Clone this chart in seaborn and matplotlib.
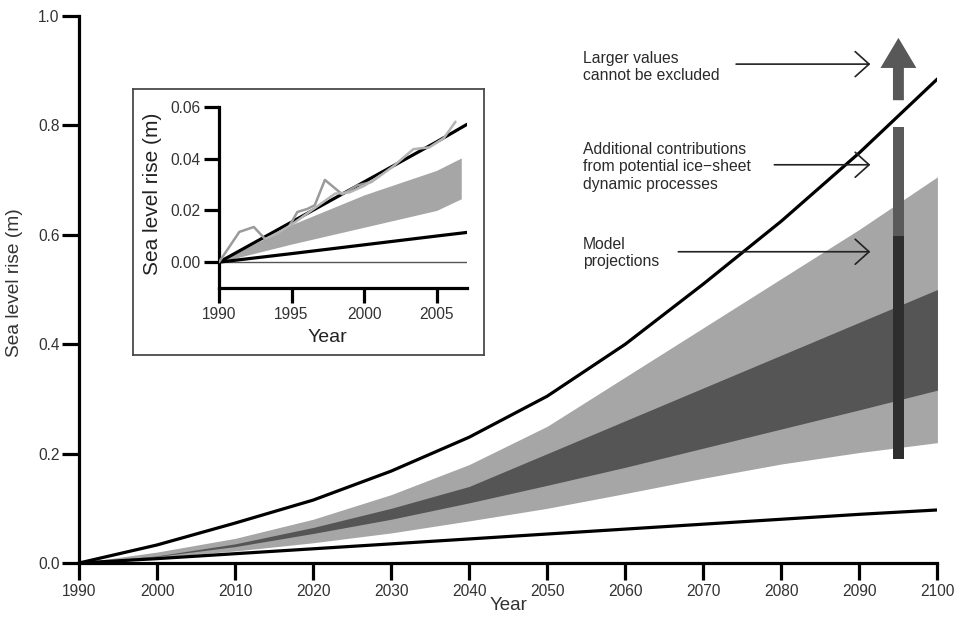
import numpy as np
import pandas as pd
import matplotlib
matplotlib.use("Agg")
import matplotlib.pyplot as plt
import seaborn as sns
from matplotlib import font_manager

# ---------------- data (main chart) ----------------
years = [1990, 2000, 2010, 2020, 2030, 2040, 2050, 2060, 2070, 2080, 2090, 2100]
upper_line = [0.0, 0.033, 0.073, 0.115, 0.168, 0.23, 0.305, 0.40, 0.51, 0.625, 0.75, 0.885]
lower_line = [0.0, 0.008, 0.017, 0.026, 0.035, 0.044, 0.053, 0.062, 0.071, 0.080, 0.089, 0.097]
light_hi = [0.0, 0.02, 0.045, 0.08, 0.125, 0.18, 0.25, 0.34, 0.43, 0.52, 0.61, 0.706]
light_lo = [0.0, 0.01, 0.022, 0.037, 0.055, 0.077, 0.10, 0.127, 0.155, 0.181, 0.202, 0.22]
dark_hi = [0.0, 0.013, 0.035, 0.065, 0.10, 0.14, 0.20, 0.26, 0.32, 0.38, 0.44, 0.50]
dark_lo = [0.0, 0.012, 0.03, 0.054, 0.08, 0.11, 0.142, 0.175, 0.21, 0.245, 0.28, 0.316]

bar_year = 2095
bar_bottoms = [0.19, 0.598]
bar_tops = [0.598, 0.797]
bar_colors = ["#2e2e2e", "#5a5a5a"]
big_arrow = [0.846, 0.96]   # shaft base, tip

notes = ["Larger values\ncannot be excluded",
         "Additional contributions\nfrom potential ice\u2212sheet\ndynamic processes",
         "Model\nprojections"]
note_text_y = [0.907, 0.724, 0.567]
note_arrow_y = [0.912, 0.728, 0.569]
note_arrow_from = [2074.2, 2079.1, 2066.8]
note_text_x = 2054.6
note_arrow_to = 2091.4

# ---------------- data (inset) ----------------
in_years = [1990, 1995, 2000, 2005, 2007.1]
in_upper = [0.0, 0.0155, 0.031, 0.0465, 0.0533]
in_lower = [0.0, 0.0033, 0.0067, 0.0101, 0.0115]
in_band_years = [1990, 1995, 2000, 2005, 2006.7]
in_band_hi = [0.0, 0.0145, 0.026, 0.0355, 0.0403]
in_band_lo = [0.0, 0.007, 0.0135, 0.020, 0.0245]
obs_a_years = [1990, 1991.4, 1992.4, 1993.2, 1994.0, 1994.8, 1995.4, 1996.1, 1996.6, 1997.3, 1998.5, 1999.5, 2000.5, 2001.1]
obs_a = [0.0, 0.0117, 0.0136, 0.0088, 0.0112, 0.0135, 0.0194, 0.0206, 0.022, 0.0318, 0.0262, 0.0296, 0.031, 0.0335]
obs_b_years = [1993.2, 1994, 1995, 1996, 1997, 1998, 1999, 2000, 2001, 2002, 2003.4, 2004.5, 2005.5, 2006.3]
obs_b = [0.009, 0.011, 0.0145, 0.0185, 0.0225, 0.0265, 0.027, 0.0295, 0.033, 0.037, 0.0437, 0.0444, 0.048, 0.0543]

# ---------------- style ----------------
sns.set_style("ticks")
avail = {f.name for f in font_manager.fontManager.ttflist}
narrow = "Liberation Sans Narrow" if "Liberation Sans Narrow" in avail else "Liberation Sans"
tick_size = 12 if narrow == "Liberation Sans Narrow" else 11.2
plt.rcParams["font.family"] = ["Liberation Sans", "DejaVu Sans"]

LIGHT = "#a6a6a6"
DARK = "#555555"
TXT = "#333333"

fig = plt.figure(figsize=(9.64, 6.17), dpi=100)
ax = fig.add_axes([0.08195, 0.0875, 0.8905, 0.8866])

ax.fill_between(years, light_lo, light_hi, color=LIGHT, lw=0, zorder=1)
ax.fill_between(years, dark_lo, dark_hi, color=DARK, lw=0, zorder=2)

df = pd.DataFrame({"year": years, "upper": upper_line, "lower": lower_line})
sns.lineplot(data=df, x="year", y="upper", color="black", lw=2.3, ax=ax, zorder=5)
sns.lineplot(data=df, x="year", y="lower", color="black", lw=2.3, ax=ax, zorder=5)

for b, t, c in zip(bar_bottoms, bar_tops, bar_colors):
    ax.bar(bar_year, t - b, bottom=b, width=1.4, color=c, lw=0, zorder=4)
ax.arrow(bar_year, big_arrow[0], 0, big_arrow[1] - big_arrow[0], width=1.4,
         head_width=4.6, head_length=0.055, length_includes_head=True,
         color="#585858", lw=0, zorder=4)

for txt, ty, ay, ax0 in zip(notes, note_text_y, note_arrow_y, note_arrow_from):
    ax.text(note_text_x, ty, txt, ha="left", va="center", fontsize=11.3,
            color="#2a2a2a", linespacing=1.18, zorder=6)
    ax.annotate("", xy=(note_arrow_to, ay), xytext=(ax0, ay),
                arrowprops=dict(arrowstyle="->,head_length=1.0,head_width=0.9",
                                mutation_scale=10, lw=1.2, color="#222222",
                                shrinkA=0, shrinkB=0), zorder=6)

ax.set_xlim(1990, 2100)
ax.set_ylim(0, 1.0)
ax.set_xticks(list(range(1990, 2101, 10)))
ax.set_yticks([0.0, 0.2, 0.4, 0.6, 0.8, 1.0])
ax.set_yticklabels([f"{v:.1f}" for v in [0.0, 0.2, 0.4, 0.6, 0.8, 1.0]])
sns.despine(ax=ax)
for s in ["left", "bottom"]:
    ax.spines[s].set_linewidth(2.3)
    ax.spines[s].set_color("black")
ax.tick_params(axis="both", length=12, width=2.3, color="black", labelcolor=TXT)
ax.tick_params(axis="x", pad=3)
ax.tick_params(axis="y", pad=2)
for lab in ax.get_xticklabels() + ax.get_yticklabels():
    lab.set_fontfamily([narrow, "DejaVu Sans"])
    lab.set_fontsize(tick_size)
ax.set_xlabel("Year", fontsize=13.5, color=TXT)
ax.set_ylabel("Sea level rise (m)", fontsize=13.8, color=TXT)
ax.xaxis.set_label_coords(0.5, -0.077)
ax.yaxis.set_label_coords(-0.0746, 0.512)
ax.xaxis.label.set_va("center")
ax.yaxis.label.set_va("center")

# ---------------- inset ----------------
box = fig.add_axes([0.138, 0.4246, 0.364, 0.431], zorder=5)
box.set_facecolor("white")
box.set_xticks([])
box.set_yticks([])
for s in box.spines.values():
    s.set_visible(True)
    s.set_color("#4a4a4a")
    s.set_linewidth(1.3)

axi = fig.add_axes([0.2272, 0.5332, 0.2573, 0.2934], zorder=6)
axi.set_facecolor("none")
axi.fill_between(in_band_years, in_band_lo, in_band_hi, color=LIGHT, lw=0, zorder=1)
axi.plot([1990, 2007.1], [0, 0], color="#555555", lw=1.0, zorder=2)
dfi = pd.DataFrame({"year": in_years, "upper": in_upper, "lower": in_lower})
dfa = pd.DataFrame({"year": obs_a_years, "sl": obs_a})
dfb = pd.DataFrame({"year": obs_b_years, "sl": obs_b})
sns.lineplot(data=dfi, x="year", y="upper", color="black", lw=2.3, ax=axi, zorder=3)
sns.lineplot(data=dfi, x="year", y="lower", color="black", lw=2.3, ax=axi, zorder=3)
sns.lineplot(data=dfa, x="year", y="sl", color="#9a9a9a", lw=1.8, ax=axi, zorder=4)
sns.lineplot(data=dfb, x="year", y="sl", color="#b4b4b4", lw=1.8, ax=axi, zorder=4)
axi.set_xlim(1990, 2007.1)
axi.set_ylim(-0.01, 0.06)
axi.set_xticks([1990, 1995, 2000, 2005])
axi.set_yticks([0.0, 0.02, 0.04, 0.06])
axi.set_yticklabels([f"{v:.2f}" for v in [0.0, 0.02, 0.04, 0.06]])
sns.despine(ax=axi)
for s in ["left", "bottom"]:
    axi.spines[s].set_linewidth(2.3)
    axi.spines[s].set_color("black")
axi.tick_params(axis="both", length=11, width=2.3, color="black", labelcolor=TXT)
axi.tick_params(axis="x", pad=3)
axi.tick_params(axis="y", pad=2)
for lab in axi.get_xticklabels() + axi.get_yticklabels():
    lab.set_fontfamily([narrow, "DejaVu Sans"])
    lab.set_fontsize(tick_size)
axi.set_xlabel("Year", fontsize=14, color="#222222")
axi.set_ylabel("Sea level rise (m)", fontsize=15, color="#222222")
axi.xaxis.set_label_coords(0.435, -0.276)
axi.yaxis.set_label_coords(-0.27, 0.522)
axi.xaxis.label.set_va("center")
axi.yaxis.label.set_va("center")

fig.savefig("out.png", dpi=100)
